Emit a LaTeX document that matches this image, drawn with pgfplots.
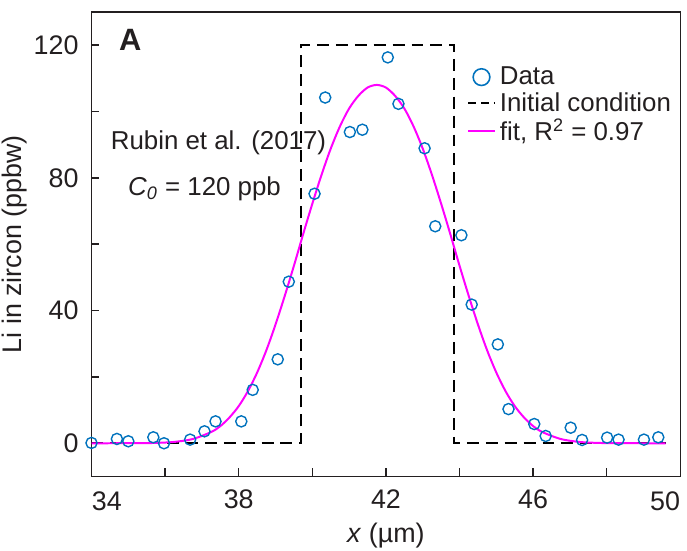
\documentclass[border=0pt]{standalone}
\usepackage{fontspec}
\setmainfont{Liberation Sans}
\usepackage{pgfplots}
\pgfplotsset{compat=1.18}
\definecolor{matblue}{RGB}{0,114,189}
\definecolor{fitmag}{RGB}{255,0,255}
\definecolor{inkblack}{RGB}{35,31,32}
\pgfplotsset{
  shortline legend/.style={legend image code/.code={\draw[##1] (0pt,0pt) -- (13.5pt,0pt);}},
  shortmark legend/.style={legend image code/.code={\draw[##1, mark repeat=2, mark phase=2]
    plot coordinates {(0pt,0pt)(6.75pt,0pt)(13.5pt,0pt)};}},
}

\begin{document}
\begin{tikzpicture}
\begin{axis}[
  scale only axis,
  width=296pt, height=233.5pt,
  xmin=34, xmax=50, ymin=-10, ymax=130,
  xtick={34,36,...,50},
  xticklabels={,,38,,42,,46,,},
  ytick={0,20,...,120},
  yticklabels={0,,40,,80,,120},
  tick align=inside,
  xtick pos=bottom, ytick pos=left,
  major tick length=4pt,
  axis line style={inkblack, line width=0.7pt},
  tick style={inkblack, line width=0.7pt},
  /pgf/number format/assume math mode=true,
  ticklabel style={font=\fontsize{13.5}{15}\selectfont, text=inkblack},
  xticklabel style={yshift=-3pt},
  yticklabel style={xshift=-3pt},
  xlabel={\textit{x} (µm)},
  ylabel={Li in zircon (ppbw)},
  label style={font=\fontsize{13.5}{15}\selectfont, text=inkblack},
  xlabel style={at={(rel axis cs:0.5,0)}, anchor=north, inner sep=0pt, yshift=-23pt},
  ylabel style={at={(rel axis cs:0,0.5)}, anchor=south, inner sep=0pt, yshift=32pt},
  clip=false,
  legend style={at={(rel axis cs:0.627,0.90)}, anchor=north west, draw=none, fill=none,
    font=\fontsize{13}{14}\selectfont, text=inkblack, row sep=-1.5pt,
    /tikz/every odd column/.append style={column sep=0pt}},
  legend cell align=left,
]
% legend entries
\addlegendimage{only marks, mark=o, mark size=4.2pt, matblue, line width=0.8pt, shortmark legend}
\addlegendentry{Data}
\addlegendimage{black, line width=1pt, dash pattern=on 4pt off 2.5pt, shortline legend}
\addlegendentry{Initial condition}
\addlegendimage{fitmag, line width=1pt, shortline legend}
\addlegendentry{fit, R\textsuperscript{2} = 0.97}

% initial condition
\addplot[forget plot, black, line width=1pt, dash pattern=on 6pt off 3.5pt] coordinates {
  (34,0) (39.7,0) (39.7,120) (43.86,120) (43.86,0) (49.6,0)};

% fit
\addplot[forget plot, fitmag, line width=1pt, smooth] coordinates {
  (34.00,0) (34.75,0.01) (35.25,0.03) (35.75,0.11) (36.25,0.41) (36.75,1.28)
  (37.25,3.38) (37.50,5.17) (37.75,7.8) (38.00,11.2) (38.25,15.7) (38.50,21.3)
  (38.75,28.0) (39.00,35.8) (39.25,44.4) (39.50,53.5) (39.75,63.0) (40.00,72.2)
  (40.25,80.9) (40.50,88.8) (40.75,95.5) (41.00,100.9) (41.25,104.7) (41.50,107.2)
  (41.75,108.0) (42.00,107.2) (42.25,104.7) (42.50,100.9) (42.75,95.5) (43.00,88.8)
  (43.25,80.9) (43.50,72.2) (43.75,63.0) (44.00,53.5) (44.25,44.4) (44.50,35.8)
  (44.75,28.0) (45.00,21.3) (45.25,15.7) (45.50,11.2) (45.75,7.8) (46.00,5.17)
  (46.25,3.38) (46.75,1.28) (47.25,0.41) (47.75,0.11) (48.25,0.03) (48.75,0.01)
  (49.60,0)};

% data
\addplot[forget plot, only marks, mark=o, mark size=2.8pt, matblue, line width=0.7pt] coordinates {
  (34.00,0.1) (34.69,1.3) (35.00,0.6) (35.68,1.8) (35.97,0.0) (36.68,1.1)
  (37.07,3.6) (37.37,6.6) (38.07,6.6) (38.38,16.1) (39.06,25.3) (39.36,48.7)
  (40.06,75.2) (40.35,104.2) (41.02,93.8) (41.36,94.5) (42.05,116.3) (42.34,102.3)
  (43.05,88.9) (43.34,65.4) (44.05,62.7) (44.33,41.8) (45.04,29.8) (45.33,10.3)
  (46.03,5.8) (46.34,2.2) (47.02,4.7) (47.33,1.0) (48.01,1.7) (48.32,1.1)
  (49.01,1.1) (49.40,1.8)};

% edge tick labels
\node[anchor=north west, inner sep=0pt, font=\fontsize{13.5}{15}\selectfont, text=inkblack]
  at ([yshift=-7.5pt]rel axis cs:0,0) {34};
\node[anchor=north east, inner sep=0pt, font=\fontsize{13.5}{15}\selectfont, text=inkblack]
  at ([yshift=-7.5pt]rel axis cs:1,0) {50};

% annotations
\node[anchor=north west, inner sep=0pt, font=\fontsize{15.5}{17}\selectfont\bfseries, text=inkblack]
  at (axis cs:34.74,124.8) {A};
\node[anchor=base, inner sep=0pt, font=\fontsize{13}{15}\selectfont, text=inkblack]
  at (axis cs:37.45,88.5) {Rubin et al. (2017)};
\node[anchor=base, inner sep=0pt, font=\fontsize{13}{15}\selectfont, text=inkblack]
  at (axis cs:37.07,74.7) {\textit{C}\textsubscript{\textit{0}} = 120 ppb};

% page frame
\path (rel axis cs:-0.1554,-0.1585) rectangle (rel axis cs:1.005,1.0257);
\end{axis}
\end{tikzpicture}
\end{document}
